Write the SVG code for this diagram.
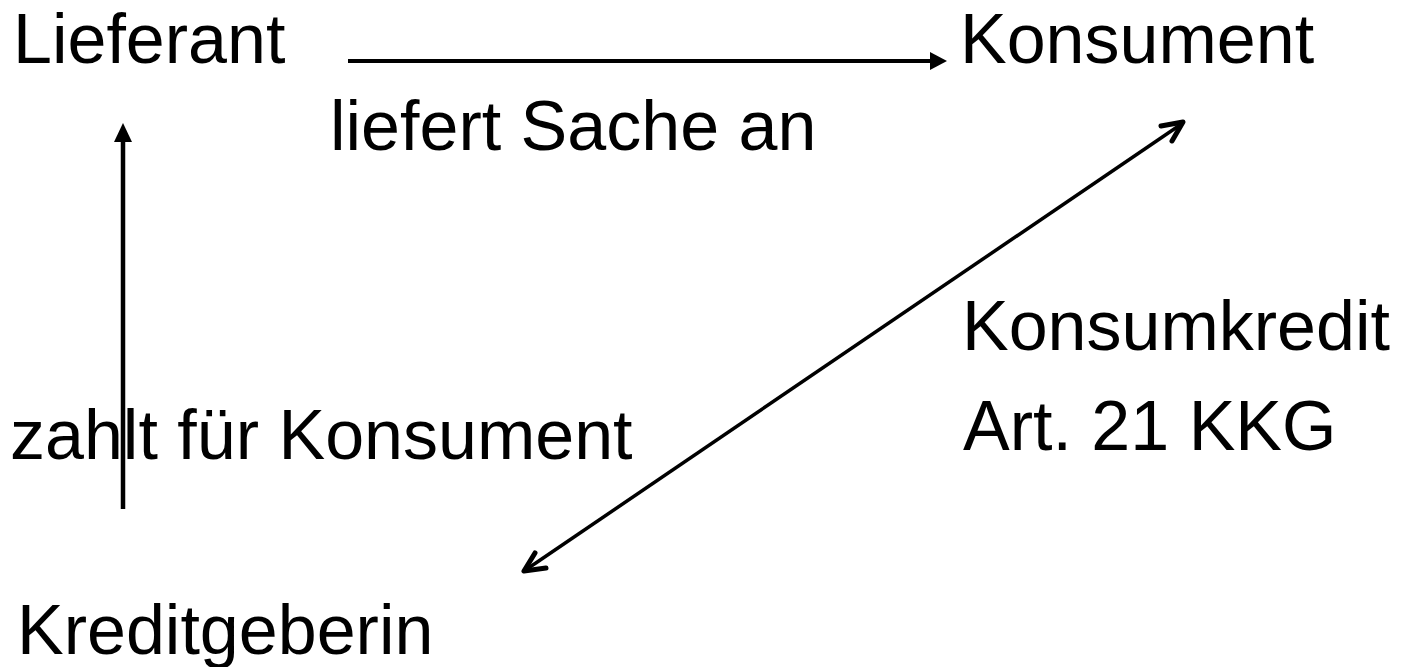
<svg xmlns="http://www.w3.org/2000/svg" width="1402" height="667" viewBox="0 0 1402 667">
<style>
text{font-family:"Liberation Sans",Arial,sans-serif;font-size:70px;fill:#000}
.c{stroke:#000;fill:none}
.h{stroke:#000;fill:none;stroke-width:5;stroke-linecap:round;stroke-linejoin:round}
</style>
<rect width="1402" height="667" fill="#fff"/>
<g id="connectors">
<line class="c" x1="348" y1="61" x2="932" y2="61" stroke-width="4"/>
<path d="M947,61 L930,52 L930,70 Z" fill="#000"/>
<line class="c" x1="123" y1="509" x2="123" y2="140" stroke-width="4.5"/>
<path d="M123,123 L114,142 L132,142 Z" fill="#000"/>
<line class="c" x1="1180" y1="125" x2="527" y2="569" stroke-width="3.5"/>
<path class="h" d="M1161,126 L1183,122 L1172,141"/>
<path class="h" d="M535,553 L524,571 L546,568"/>
</g>
<g id="lieferant"><text x="13" y="63">Lieferant</text></g>
<g id="konsument"><text x="960" y="63">Konsument</text></g>
<g id="kreditgeberin"><text x="17" y="654">Kreditgeberin</text></g>
<g id="label-liefert"><text x="330" y="150">liefert Sache an</text></g>
<g id="label-zahlt"><text x="10" y="459">zahlt für Konsument</text></g>
<g id="label-kredit"><text x="962" y="350">Konsumkredit</text><text x="963" y="450">Art. 21 KKG</text></g>
</svg>
